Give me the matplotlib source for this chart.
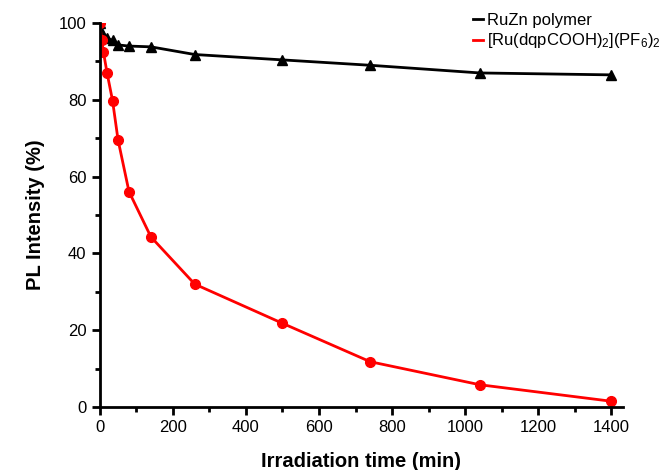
import matplotlib
matplotlib.use("Agg")
import matplotlib.pyplot as plt
from matplotlib.ticker import MultipleLocator

plt.rcParams['font.family'] = ['Liberation Sans', 'DejaVu Sans']
plt.rcParams['mathtext.fontset'] = 'custom'
plt.rcParams['mathtext.rm'] = 'Liberation Sans'
plt.rcParams['mathtext.it'] = 'Liberation Sans:italic'
plt.rcParams['mathtext.bf'] = 'Liberation Sans:bold'

time_ruzn = [0, 5, 10, 20, 35, 50, 80, 140, 260, 500, 740, 1040, 1400]
pl_ruzn = [100, 97.5, 96.5, 96, 95.5, 94.3, 94, 93.8, 91.8, 90.4, 89.0, 87.0, 86.5]

time_ru = [0, 5, 10, 20, 35, 50, 80, 140, 260, 500, 740, 1040, 1400]
pl_ru = [100, 95.5, 92.5, 87.0, 79.8, 69.6, 56.1, 44.3, 32.0, 21.8, 11.8, 5.8, 1.5]

label_ruzn = "RuZn polymer"
label_ru = r"[Ru(dqpCOOH)$_\mathrm{2}$](PF$_\mathrm{6}$)$_\mathrm{2}$"

fig = plt.figure(figsize=(6.65, 4.7), dpi=100)
ax = fig.add_axes([0.150, 0.134, 0.787, 0.817])

ax.plot(time_ruzn, pl_ruzn, color='black', lw=2, marker='^', ms=7, label=label_ruzn)
ax.plot(time_ru, pl_ru, color='#ff0000', lw=2, marker='o', ms=7, label=label_ru)

ax.set_xlim(0, 1432)
ax.set_ylim(0, 100)
ax.xaxis.set_major_locator(MultipleLocator(200))
ax.xaxis.set_minor_locator(MultipleLocator(100))
ax.yaxis.set_major_locator(MultipleLocator(20))
ax.yaxis.set_minor_locator(MultipleLocator(10))

for s in ['top', 'right']:
    ax.spines[s].set_visible(False)
for s in ['left', 'bottom']:
    ax.spines[s].set_linewidth(2)
ax.tick_params(which='major', direction='out', length=6, width=2, labelsize=12)
ax.tick_params(which='minor', direction='out', length=3.5, width=2)

ax.set_xlabel("Irradiation time (min)", fontsize=14.5, fontweight='bold', labelpad=12)
ax.set_ylabel("PL Intensity (%)", fontsize=14.5, fontweight='bold', labelpad=10)

ax.legend(loc='upper right', bbox_to_anchor=(1.10, 1.065), frameon=False, fontsize=12,
          handlelength=0.6, handletextpad=0.2, labelspacing=0.2, markerscale=0)

fig.savefig("out.png", dpi=100)
